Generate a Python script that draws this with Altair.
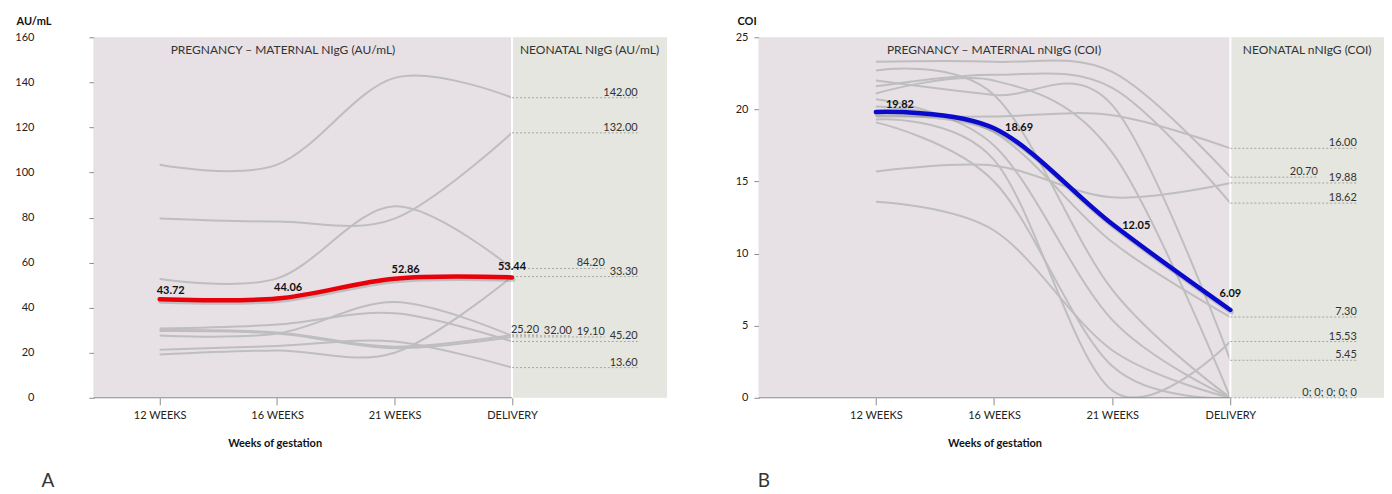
import json
import altair as alt
import pandas as pd

weeks = ["12 WEEKS", "16 WEEKS", "21 WEEKS", "DELIVERY"]

# Panel A: maternal NIgG (AU/mL), one row per woman: 12w, 16w, 21w, delivery
a_lines = [
    [103.4, 103.5, 142.0, 133.2],
    [79.6, 78.2, 79.5, 117.6],
    [52.7, 53.0, 85.0, 57.4],
    [30.7, 32.5, 37.5, 25.0],
    [27.6, 28.5, 42.5, 27.5],
    [30.1, 29.0, 22.7, 27.9],
    [29.6, 28.5, 22.0, 27.0],
    [21.3, 23.0, 25.0, 13.4],
    [19.2, 21.0, 20.0, 53.8],
]
a_mean = [43.72, 44.06, 52.86, 53.44]
a_neonatal = ["142.00", "132.00", "84.20", "45.20", "32.00", "25.20", "19.10", "13.60", "33.30"]

# Panel B: maternal nNIgG (COI)
b_lines = [
    [23.3, 23.3, 22.6, 15.3],
    [21.6, 22.4, 21.5, 13.5],
    [19.5, 19.5, 19.6, 17.3],
    [15.7, 16.1, 13.9, 14.9],
    [20.2, 18.4, 10.8, 5.6],
    [22.0, 21.0, 20.3, 2.6],
    [19.3, 16.5, 0.5, 3.9],
    [22.7, 21.0, 7.5, 0.0],
    [21.1, 22.0, 17.0, 0.0],
    [20.7, 17.5, 5.4, 0.0],
    [19.1, 15.0, 2.2, 0.0],
    [13.6, 11.6, 3.3, 0.0],
]
b_mean = [19.82, 18.69, 12.05, 6.09]
b_neonatal = ["20.70", "18.62", "16.00", "19.88", "7.30", "5.45", "15.53", "0", "0", "0", "0", "0"]

FONT = "Lato"
PINK = "#E7E0E5"
GREEN = "#E4E6DF"
GRAY_LINE = "#BEBEBE"
AXIS_GRAY = "#8C8C8C"
H = 361


def panel(lines, mean, neo, ymax, ystep, unit, preg_title, neo_title, mean_color,
          letter, xmin, xmax, width, ylab_pad, ytitle_x, xtitle_x, preg_x,
          mean_styles, slot_step, cluster_gap, letter_x):
    n = len(weeks)
    deliv = n - 1
    xs = alt.Scale(domain=[xmin, xmax], nice=False, zero=False)
    ys = alt.Scale(domain=[0, ymax], nice=False, zero=True)

    def X(f):
        return alt.X(f, scale=xs)

    def Y(f):
        return alt.Y(f, scale=ys)

    rows = []
    for i, s in enumerate(lines):
        for j, v in enumerate(s):
            rows.append({"series": i, "x": j, "v": v})
    df_lines = pd.DataFrame(rows)
    df_mean = pd.DataFrame({"x": list(range(n)), "v": mean,
                            "label": [f"{m:.2f}" for m in mean]})

    # neonatal labels: group identical delivery values, shift crowded ones left
    groups = {}
    for s, lab in zip(lines, neo):
        groups.setdefault(s[-1], []).append(lab)
    entries = sorted(groups.items(), key=lambda kv: -kv[0])
    clusters = []
    for val, labs in entries:
        if clusters and clusters[-1][-1][0] - val < cluster_gap:
            clusters[-1].append((val, labs))
        else:
            clusters.append([(val, labs)])
    lab_rows = []
    lab_right = deliv + 1.07
    for cl in clusters:
        k = len(cl)
        for m, (val, labs) in enumerate(cl):
            slot = k - 1 - m
            lab_rows.append({"v": val, "x0": deliv, "x1": lab_right - slot * slot_step,
                             "label": "; ".join(labs)})
    df_lab = pd.DataFrame(lab_rows)

    df_reg = pd.DataFrame({"x0": [xmin, deliv], "x1": [deliv, xmax],
                           "y0": [0, 0], "y1": [ymax, ymax], "region": ["p", "n"]})

    label_expr = json.dumps(weeks) + "[datum.value]"
    x_axis = alt.Axis(
        values=list(range(n)), labelExpr=label_expr, title="Weeks of gestation",
        domain=False, ticks=True, tickSize=7, tickColor=AXIS_GRAY, labelPadding=5,
        labelFont=FONT, labelFontSize=11, labelColor="#222", grid=False,
        titleFont=FONT, titleFontSize=11, titleFontWeight="bold", titleColor="#111",
        titleX=xtitle_x, titleY=46, titleBaseline="middle", titleAlign="center")
    y_axis = alt.Axis(
        values=list(range(0, ymax + 1, ystep)), title=unit, titleAngle=0,
        titleAlign="left", titleBaseline="top", titleX=ytitle_x, titleY=-22,
        titleFont=FONT, titleFontSize=11, titleFontWeight="bold", titleColor="#111",
        grid=False, domainColor=AXIS_GRAY, tickColor=AXIS_GRAY, tickSize=5,
        labelPadding=ylab_pad, labelFont=FONT, labelFontSize=11, labelColor="#222")

    bg = alt.Chart(df_reg).mark_rect().encode(
        x=alt.X("x0:Q", scale=xs, axis=x_axis), x2="x1:Q",
        y=alt.Y("y0:Q", scale=ys, axis=y_axis), y2="y1:Q",
        color=alt.Color("region:N", scale=alt.Scale(domain=["p", "n"], range=[PINK, GREEN]), legend=None),
    )
    sep = alt.Chart(pd.DataFrame({"x": [deliv]})).mark_rule(color="white", strokeWidth=2).encode(
        x=X("x:Q"), y=alt.value(0), y2=alt.value(H))
    base_rule = alt.Chart(pd.DataFrame({"x0": [xmin], "x1": [deliv]})).mark_rule(
        color=AXIS_GRAY, strokeWidth=1).encode(x=X("x0:Q"), x2="x1:Q", y=alt.value(H))

    gray = alt.Chart(df_lines).mark_line(
        interpolate="cardinal", color=GRAY_LINE, strokeWidth=2, clip=True).encode(
        x=X("x:Q"), y=Y("v:Q"), detail="series:N")
    dashes = alt.Chart(df_lab).mark_rule(color="#A6A6A6", strokeWidth=1, strokeDash=[2, 2]).encode(
        x=X("x0:Q"), x2="x1:Q", y=Y("v:Q"))
    neo_text = alt.Chart(df_lab).mark_text(
        align="right", baseline="alphabetic", dy=-2, font=FONT, fontSize=11, color="#333").encode(
        x=X("x1:Q"), y=Y("v:Q"), text="label:N")
    shadow = alt.Chart(df_mean).mark_line(
        interpolate="cardinal", color="#777777", opacity=0.35, strokeWidth=5,
        strokeCap="round", xOffset=1, yOffset=2).encode(x=X("x:Q"), y=Y("v:Q"))
    mean_line = alt.Chart(df_mean).mark_line(
        interpolate="cardinal", color=mean_color, strokeWidth=4.5, strokeCap="round").encode(
        x=X("x:Q"), y=Y("v:Q"))
    mean_texts = []
    for k, (al, dx, dy) in enumerate(mean_styles):
        mean_texts.append(alt.Chart(df_mean.iloc[[k]]).mark_text(
            align=al, dx=dx, dy=dy, baseline="alphabetic", font=FONT, fontSize=11,
            fontWeight="bold", color="#111").encode(
            x=X("x:Q"), y=Y("v:Q"), text="label:N"))
    titles = alt.Chart(pd.DataFrame({"x": [preg_x, (deliv + xmax) / 2],
                                     "t": [preg_title, neo_title]})).mark_text(
        baseline="middle", font=FONT, fontSize=12, color="#333").encode(
        x=X("x:Q"), y=alt.value(13), text="t:N")
    let = alt.Chart(pd.DataFrame({"t": [letter]})).mark_text(
        font=FONT, fontSize=19, color="#333", align="center", baseline="alphabetic").encode(
        x=alt.value(letter_x), y=alt.value(450), text="t:N")

    return alt.layer(bg, gray, sep, base_rule, dashes, neo_text, shadow, mean_line,
                     *mean_texts, titles, let).properties(width=width, height=H)


left = panel(a_lines, a_mean, a_neonatal, 160, 20, "AU/mL",
             "PREGNANCY \u2013 MATERNAL NIgG (AU/mL)", "NEONATAL NIgG (AU/mL)", "#E8000A",
             "A", -0.56, 4.32, 574, 55, -78, 181, 1.05,
             [("left", -3, -5), ("left", -3, -8), ("left", -3, -6), ("center", 0, -7)],
             0.28, 5.0, -46)
right = panel(b_lines, b_mean, b_neonatal, 25, 5, "COI",
              "PREGNANCY \u2013 MATERNAL nNIgG (COI)", "NEONATAL nNIgG (COI)", "#0A0ACD",
              "B", -0.99, 4.30, 626, 6, -22, 236, 1.0,
              [("left", 10, -4), ("left", 11, 3), ("left", 10, 5), ("center", 0, -13)],
              0.33, 0.75, 5)

chart = alt.hconcat(left, right, spacing=68).properties(
    padding={"left": 6, "top": 7, "right": 0, "bottom": 0}
).configure_view(stroke=None)

chart.save("out.html", embed_options={"renderer": "svg", "actions": False})
